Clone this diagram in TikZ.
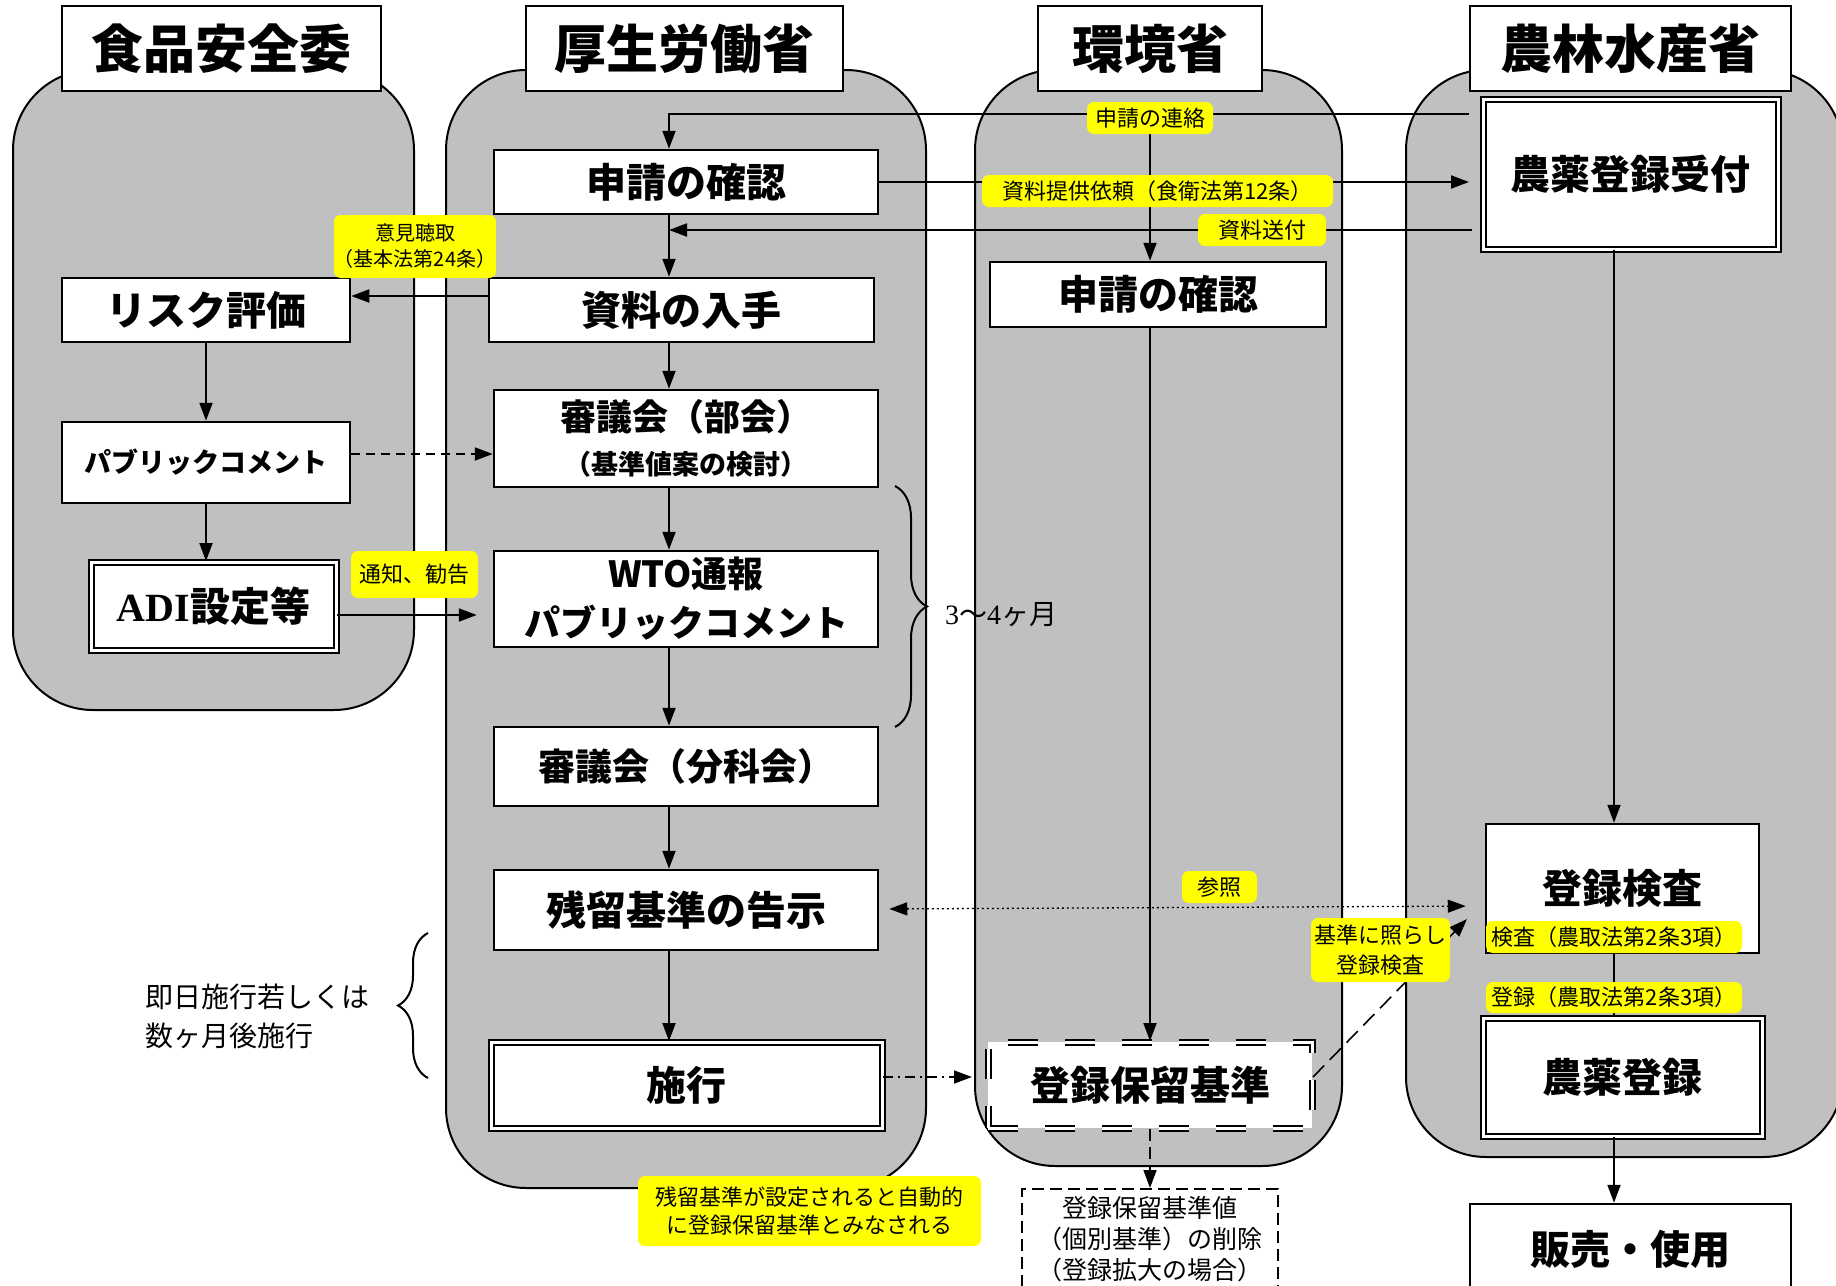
\documentclass[tikz,border=0pt]{standalone}
\usepackage{fontspec}
\newfontfamily\jp{Noto Sans CJK JP}
\newfontfamily\tms{Liberation Serif}
\usetikzlibrary{arrows.meta,decorations.pathreplacing}
\definecolor{lanegray}{RGB}{192,192,192}
\definecolor{ylw}{RGB}{255,255,0}
\newcommand\fsz[2]{\fontsize{#1}{#2}\selectfont}
\tikzset{
  lane/.style={draw=black, fill=lanegray, line width=2pt, rounded corners=80pt},
  titlebox/.style={draw=black, fill=white, line width=2pt, inner sep=0pt, font=\jp\bfseries\fsz{52}{60}},
  box/.style={draw=black, fill=white, line width=2.5pt, inner sep=0pt, align=center, font=\jp\bfseries\fsz{40}{48}},
  dblbox/.style={box, double=white, double distance=3pt, line width=2pt},
  ylab/.style={fill=ylw, rounded corners=7pt, inner sep=0pt, align=center, font=\jp\fsz{22}{28}},
  tip/.style={},
  arr/.style={line width=2pt, -{Triangle[length=18pt,width=13pt]}},
  plainline/.style={line width=2pt},
  darr/.style={arr, dash pattern=on 9pt off 6pt},
  ddarr/.style={arr, line width=1.5pt, dash pattern=on 10pt off 5pt on 2pt off 5pt},
  dotarr/.style={line width=1.3pt, dash pattern=on 2pt off 3pt, {Triangle[length=18pt,width=13pt]}-{Triangle[length=18pt,width=13pt]}},
  dasharr/.style={arr, line width=1.6pt, dash pattern=on 16pt off 8pt},
  bracestyle/.style={line width=2pt, decorate},
}
\begin{document}
\begin{tikzpicture}[x=1pt, y=-1pt]
\useasboundingbox (0,0) rectangle (1836,1285);
\clip (0,0) rectangle (1836,1285);

% lanes
\path[lane] (13,70) rectangle (414,710);
\path[lane] (446,70) rectangle (926,1188);
\path[lane] (975,70) rectangle (1342,1166);
\path[lane] (1406,70) rectangle (1843,1157);

% titles
\node[titlebox, minimum width=319pt, minimum height=85pt] (T1) at (221.5,48.5) {食品安全委};
\node[titlebox, minimum width=317pt, minimum height=85pt] (T2) at (684.5,48.5) {厚生労働省};
\node[titlebox, minimum width=224pt, minimum height=85pt] (T3) at (1150,48.5) {環境省};
\node[titlebox, minimum width=321pt, minimum height=85pt] (T4) at (1630.5,48.5) {農林水産省};

% MHLW
\node[box, minimum width=384pt, minimum height=64pt] (A1) at (686,182) {申請の確認};
\node[box, minimum width=385pt, minimum height=64pt] (A2) at (681.5,310) {資料の入手};
\node[box, minimum width=384pt, minimum height=97pt, font=\jp\bfseries\fsz{36}{44}] (A3) at (686,438.5) {審議会（部会）\\{\fsz{27}{34}（基準値案の検討）}};
\node[box, minimum width=384pt, minimum height=96pt, font=\jp\bfseries\fsz{36}{49}] (A4) at (686,599) {WTO通報\\パブリックコメント};
\node[box, minimum width=384pt, minimum height=79pt, font=\jp\bfseries\fsz{37}{44}] (A5) at (686,766.5) {審議会（分科会）};
\node[box, minimum width=384pt, minimum height=80pt] (A6) at (686,910) {残留基準の告示};
\node[dblbox, minimum width=391pt, minimum height=86pt] (A7) at (686.5,1085) {施行};

% FSC
\node[box, minimum width=288pt, minimum height=64pt] (B1) at (206,310) {リスク評価};
\node[box, minimum width=288pt, minimum height=81pt, font=\jp\bfseries\fsz{27}{32}] (B2) at (206,462.5) {パブリックコメント};
\node[dblbox, minimum width=245pt, minimum height=88pt] (B3) at (213.5,606) {{\tms\bfseries ADI}設定等};

% MOE
\node[box, minimum width=336pt, minimum height=65pt] (C1) at (1158,294.5) {申請の確認};
\node[box, dash pattern=on 30pt off 27pt, double=white, double distance=3pt, line width=2pt, minimum width=324pt, minimum height=86pt] (C2) at (1150,1085) {登録保留基準};
\node[draw=black, fill=white, line width=2pt, dash pattern=on 12pt off 6pt, minimum width=256pt, minimum height=122pt, anchor=north] (C3) at (1150,1188) {};
\node[align=center, font=\jp\fsz{25}{31}] (C3t) at (1150,1239) {登録保留基準値\\（個別基準）の削除\\（登録拡大の場合）};

% MAFF
\node[dblbox, minimum width=295pt, minimum height=150pt] (D1) at (1630.5,174) {農薬登録受付};
\node[box, minimum width=273pt, minimum height=129pt] (D2) at (1622.5,888.5) {登録検査};
\node[dblbox, minimum width=279pt, minimum height=118pt] (D3) at (1622.5,1077) {農薬登録};
\node[box, minimum width=321pt, minimum height=91pt] (D4) at (1630.5,1249.5) {販売・使用};

% helper coordinates
\coordinate (vx) at (669,0);
\coordinate (vx3) at (1150,0);
\coordinate (vx4) at (1614,0);
\coordinate (h114) at (0,114);
\coordinate (h230) at (0,230);
\coordinate (h296) at (0,296);
\coordinate (h454) at (0,454);
\coordinate (h615) at (0,615);
\coordinate (h909) at (0,909);
\coordinate (h906) at (0,906);
\coordinate (h1077) at (0,1077);
\coordinate (e1) at (1467,919);

% connectors
\draw[arr, shorten <=13pt] (D1.west |- h114) -| (A1.north -| vx);
\draw[arr] (vx3 |- h114) -- (C1.north -| vx3);
\draw[arr, shorten >=13pt] (A1.east) -- (A1.east -| D1.west);
\draw[arr, shorten <=10pt] (D1.west |- h230) -- (vx |- h230);
\draw[arr] (A1.south -| vx) -- (A2.north -| vx);
\draw[arr] (A2.west |- h296) -- (B1.east |- h296);
\draw[arr] (B1.south) -- (B2.north);
\draw[arr] (B2.south) -- (B2.south |- B3.north);
\draw[darr] (B2.east |- h454) -- (A3.west |- h454);
\draw[arr, shorten >=16pt] (B3.east |- h615) -- (A4.west |- h615);
\draw[arr] (A2.south -| vx) -- (A3.north -| vx);
\draw[arr] (A3.south -| vx) -- (A4.north -| vx);
\draw[arr] (A4.south -| vx) -- (A5.north -| vx);
\draw[arr] (A5.south -| vx) -- (A6.north -| vx);
\draw[arr] (A6.south -| vx) -- (A7.north -| vx);
\draw[ddarr, shorten >=15pt] (A7.east |- h1077) -- (C2.west |- h1077);
\draw[dotarr, shorten <=10pt, shorten >=19pt] (A6.east |- h909) -- (D2.west |- h906);
\draw[arr] (C1.south -| vx3) -- (C2.north);
\draw[dasharr] (C2.east |- h1077) -- (e1);
\draw[darr, line width=1.6pt, dash pattern=on 12pt off 6pt] (C2.south) -- (C3.north);
\draw[arr] (D1.south -| vx4) -- (D2.north -| vx4);
\draw[plainline] (D2.south -| vx4) -- (D3.north -| vx4);
\draw[arr] (D3.south -| vx4) -- (D4.north -| vx4);

% braces and notes
\draw[bracestyle, decoration={brace, amplitude=32pt}] (895,486) -- (895,727);
\draw[bracestyle, decoration={brace, amplitude=30pt}] (428,1078) -- (428,933);
\node[anchor=west, inner sep=0pt, font=\fsz{28}{34}] (N1) at (945,615) {{\tms 3}{\jp ～}{\tms 4}{\jp ヶ月}};
\node[anchor=west, align=left, inner sep=0pt, font=\jp\fsz{28}{39}] (N2) at (145,1016) {即日施行若しくは\\数ヶ月後施行};

% yellow labels
\node[ylab, minimum width=126pt, minimum height=32pt] (Y1) at (1150,118) {申請の連絡};
\node[ylab, minimum width=351pt, minimum height=32pt] (Y2) at (1157.5,191) {資料提供依頼（食衛法第12条）};
\node[ylab, minimum width=128pt, minimum height=32pt] (Y3) at (1262,230) {資料送付};
\node[ylab, minimum width=162pt, minimum height=63pt, font=\jp\fsz{20}{26}] (Y4) at (415,246.5) {意見聴取\\（基本法第24条）};
\node[ylab, minimum width=127pt, minimum height=47pt] (Y5) at (414.5,574.5) {通知、勧告};
\node[ylab, minimum width=75pt, minimum height=32pt] (Y6) at (1219.5,887) {参照};
\node[ylab, minimum width=139pt, minimum height=64pt, font=\jp\fsz{22}{30}] (Y7) at (1380.5,950) {基準に照らし\\登録検査};
\node[ylab, minimum width=256pt, minimum height=32pt] (Y8) at (1614,937) {検査（農取法第2条3項）};
\node[ylab, minimum width=256pt, minimum height=31pt] (Y9) at (1614,997.5) {登録（農取法第2条3項）};
\node[ylab, minimum width=343pt, minimum height=70pt, font=\jp\fsz{22}{28}] (Y10) at (809.5,1211) {残留基準が設定されると自動的\\に登録保留基準とみなされる};
\end{tikzpicture}
\end{document}
